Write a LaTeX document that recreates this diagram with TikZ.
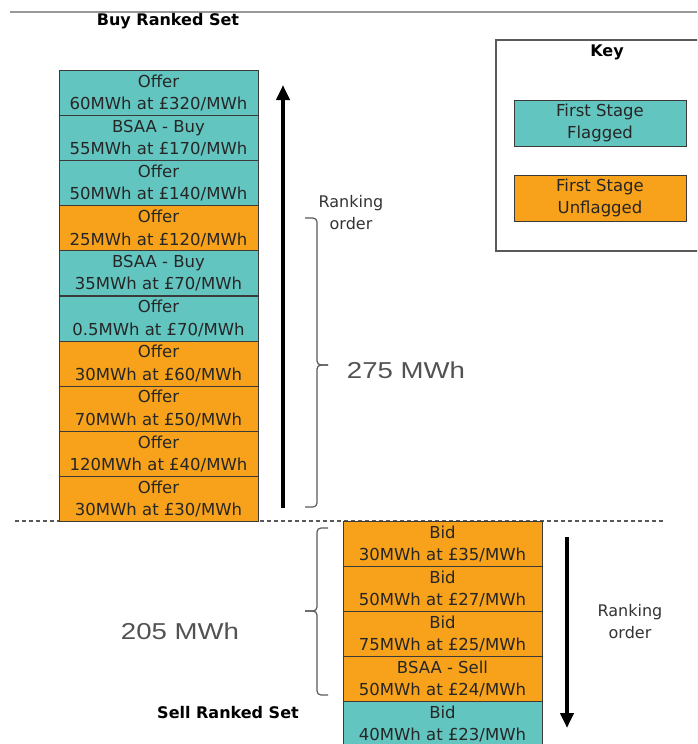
\documentclass[tikz,border=0pt]{standalone}
\usepackage{fontspec}
\setmainfont{DejaVu Sans}
\newfontfamily\sumfont[FakeStretch=1.2]{Liberation Sans}
\usepackage{tikz}
\usetikzlibrary{arrows.meta, positioning}
\definecolor{flagged}{HTML}{62C5C0}
\definecolor{unflagged}{HTML}{F7A21A}
\definecolor{edge}{HTML}{3A3A3A}

\begin{document}
\begin{tikzpicture}[x=1pt, y=-1pt,
  entry/.style={draw=edge, line width=0.9pt, minimum width=199pt, minimum height=45pt, inner sep=0pt,
    align=center, font=\fontsize{16.5}{22.5}\selectfont, text=black!85},
  keybox/.style={entry, minimum width=172pt, minimum height=46pt},
  title/.style={font=\fontsize{16}{19}\selectfont\bfseries},
  rank/.style={font=\fontsize{16}{22}\selectfont, text=black!80, align=center},
  total/.style={font=\sumfont\fontsize{23}{26}\selectfont, text=black!68},
  bracket/.style={draw=black!65, line width=1.2pt, rounded corners=4pt},
  rankarrow/.style={-{Triangle[length=15pt, width=13pt]}, line width=4pt}]
  \useasboundingbox (0,0) rectangle (697,744);
  \clip (0,0) rectangle (697,744);

  \draw[black!40, line width=1.5pt] (10,12) -- (697,12);
  \draw[black!65, line width=1.2pt, dash pattern=on 4pt off 3pt] (15,521) -- (665,521);

  \node[title] (buytitle) at (168,21) {Buy Ranked Set};
  \foreach \i/\c/\a/\b in {1/flagged/Offer/{60MWh at £320/MWh},
      2/flagged/BSAA - Buy/{55MWh at £170/MWh},
      3/flagged/Offer/{50MWh at £140/MWh},
      4/unflagged/Offer/{25MWh at £120/MWh},
      5/flagged/BSAA - Buy/{35MWh at £70/MWh},
      6/flagged/Offer/{0.5MWh at £70/MWh},
      7/unflagged/Offer/{30MWh at £60/MWh},
      8/unflagged/Offer/{70MWh at £50/MWh},
      9/unflagged/Offer/{120MWh at £40/MWh},
      10/unflagged/Offer/{30MWh at £30/MWh}}
    \node[entry, fill=\c, anchor=north] (buy\i) at (158.5, {70+45.1*(\i-1)}) {\a\\\b};

  \foreach \i/\c/\a/\b in {1/unflagged/Bid/{30MWh at £35/MWh},
      2/unflagged/Bid/{50MWh at £27/MWh},
      3/unflagged/Bid/{75MWh at £25/MWh},
      4/unflagged/BSAA - Sell/{50MWh at £24/MWh},
      5/flagged/Bid/{40MWh at £23/MWh}}
    \node[entry, fill=\c, anchor=north] (sell\i) at (442.5, {521+45*(\i-1)}) {\a\\\b};
  \node[title] (selltitle) at (228,713) {Sell Ranked Set};

  \coordinate (upfoot) at (283,508);
  \coordinate (uphead) at (283,85);
  \draw[rankarrow] (upfoot) -- (uphead);
  \node[rank] (buyrank) at (351,213) {Ranking\\order};
  \draw[bracket] (305,218) -| (317,365) -- (328,365);
  \draw[bracket] (328,365) -| (317,507) -- (305,507);
  \node[total] (buysum) at (406,370) {275 MWh};

  \coordinate (downfoot) at (567,537);
  \coordinate (downhead) at (567,728);
  \draw[rankarrow] (downfoot) -- (downhead);
  \node[rank] (sellrank) at (630,622) {Ranking\\order};
  \draw[bracket] (328,528) -| (317,611) -- (305,611);
  \draw[bracket] (305,611) -| (317,695) -- (328,695);
  \node[total] (sellsum) at (180,631) {205 MWh};

  \draw[black!65, line width=1.2pt] (700,40) -| (496,251) -- (700,251);
  \node[title] (keytitle) at (607,52) {Key};
  \node[keybox, fill=flagged] (keyflag) at (600,123) {First Stage\\Flagged};
  \node[keybox, fill=unflagged] (keyunflag) at (600,198) {First Stage\\Unflagged};
\end{tikzpicture}
\end{document}
